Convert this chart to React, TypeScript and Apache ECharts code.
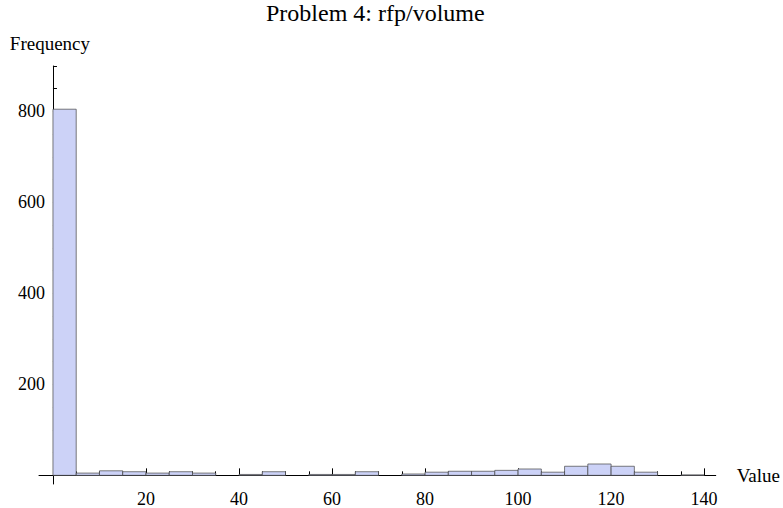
import React, { useEffect, useRef } from "react";
import * as echarts from "echarts";

// Histogram bins (width 5) and frequencies
const binStarts = [0, 5, 10, 15, 20, 25, 30, 35, 40, 45, 50, 55, 60, 65, 70, 75, 80, 85, 90, 95, 100, 105, 110, 115, 120, 125, 130, 135];
const binEnds = [5, 10, 15, 20, 25, 30, 35, 40, 45, 50, 55, 60, 65, 70, 75, 80, 85, 90, 95, 100, 105, 110, 115, 120, 125, 130, 135, 140];
const counts = [805, 5, 10, 8, 5, 8, 5, 0, 2, 8, 0, 2, 2, 8, 0, 3, 7, 9, 9, 11, 14, 7, 20, 25, 20, 7, 0, 1];

const xMajorTicks = [20, 40, 60, 80, 100, 120, 140];
const xMinorTicks = [5, 10, 15, 25, 30, 35, 45, 50, 55, 65, 70, 75, 85, 90, 95, 105, 110, 115, 125, 130, 135];
const yMajorTicks = [200, 400, 600, 800];
const yMinorTicks = [50, 100, 150, 250, 300, 350, 450, 500, 550, 650, 700, 750, 850, 900];

const FONT = "Liberation Serif";

export default function App() {
  const ref = useRef<HTMLDivElement>(null);
  useEffect(() => {
    if (!ref.current) return;
    const chart = echarts.init(ref.current, null, { renderer: "svg" });
    const data = binStarts
      .map((s, i) => [s, binEnds[i], counts[i]])
      .filter((d) => d[2] > 0);
    const lineStyle = { color: "#000", width: 1 };
    chart.setOption({
      animation: false,
      backgroundColor: "#fff",
      title: {
        text: "Problem 4: rfp/volume",
        left: 261,
        top: -4,
        textStyle: { fontFamily: FONT, fontSize: 24, fontWeight: "normal", color: "#000" },
      },
      grid: { left: 39, right: 67, top: 66, bottom: 21 },
      xAxis: [
        {
          type: "value",
          position: "bottom",
          min: -3,
          max: 142.5,
          axisLine: { show: true, onZero: true, onZeroAxisIndex: 0, lineStyle },
          axisTick: { show: true, inside: true, length: 7, customValues: xMajorTicks, lineStyle },
          axisLabel: { customValues: xMajorTicks, fontFamily: FONT, fontSize: 18, color: "#000", margin: 6 },
          splitLine: { show: false },
          name: "Value",
          nameLocation: "end",
          nameGap: 21,
          nameTextStyle: { fontFamily: FONT, fontSize: 19, color: "#000", padding: [6, 0, 0, 0] },
        },
        {
          type: "value",
          position: "bottom",
          min: -3,
          max: 142.5,
          axisLine: { show: false, onZero: true, onZeroAxisIndex: 0 },
          axisTick: { show: true, inside: true, length: 4, customValues: xMinorTicks, lineStyle },
          axisLabel: { show: false },
          splitLine: { show: false },
        },
      ],
      yAxis: [
        {
          type: "value",
          position: "left",
          min: -19,
          max: 900,
          axisLine: { show: true, onZero: true, onZeroAxisIndex: 0, lineStyle },
          axisTick: { show: true, inside: true, length: 7, customValues: yMajorTicks, lineStyle },
          axisLabel: { customValues: yMajorTicks, fontFamily: FONT, fontSize: 18, color: "#000", margin: -6 },
          splitLine: { show: false },
          name: "Frequency",
          nameLocation: "end",
          nameGap: 13,
          nameTextStyle: { fontFamily: FONT, fontSize: 19, color: "#000", padding: [0, 6, 0, 0] },
        },
        {
          type: "value",
          position: "left",
          min: -19,
          max: 900,
          axisLine: { show: false, onZero: true, onZeroAxisIndex: 0 },
          axisTick: { show: true, inside: true, length: 4, customValues: yMinorTicks, lineStyle },
          axisLabel: { show: false },
          splitLine: { show: false },
        },
      ],
      series: [
        {
          type: "custom",
          xAxisIndex: 0,
          yAxisIndex: 0,
          data,
          encode: { x: [0, 1], y: 2 },
          renderItem: (params: any, api: any) => {
            const p0 = api.coord([api.value(0), api.value(2)]);
            const p1 = api.coord([api.value(1), 0]);
            return {
              type: "rect",
              shape: { x: p0[0], y: p0[1], width: p1[0] - p0[0], height: p1[1] - p0[1] },
              style: { fill: "#CCD2F7", stroke: "rgba(70,70,70,0.7)", lineWidth: 1 },
            };
          },
          z: 1,
        },
      ],
    });
    return () => chart.dispose();
  }, []);
  return (
    <div
      ref={ref}
      style={{ position: "fixed", left: 0, top: 0, width: 783, height: 508 }}
    />
  );
}
